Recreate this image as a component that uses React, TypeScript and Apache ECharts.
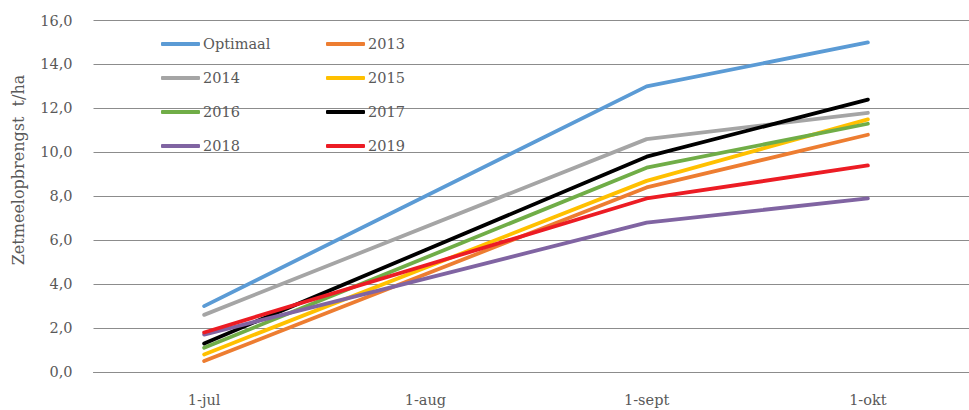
import React, { useEffect, useRef } from "react";
import * as echarts from "echarts";

const categories = ["1-jul", "1-aug", "1-sept", "1-okt"];
const seriesNames = ["Optimaal", "2013", "2014", "2015", "2016", "2017", "2018", "2019"];
const optimaal = [3.0, null, 13.0, 15.0];
const y2013 = [0.5, null, 8.4, 10.8];
const y2014 = [2.6, null, 10.6, 11.8];
const y2015 = [0.8, null, 8.7, 11.5];
const y2016 = [1.1, null, 9.3, 11.3];
const y2017 = [1.3, null, 9.8, 12.4];
const y2018 = [1.7, null, 6.8, 7.9];
const y2019 = [1.8, null, 7.9, 9.4];
const seriesData = [optimaal, y2013, y2014, y2015, y2016, y2017, y2018, y2019];
const colors = ["#5B9BD5", "#ED7D31", "#A5A5A5", "#FFC000", "#70AD47", "#000000", "#8064A2", "#EC1C24"];
const yMin = 0;
const yMax = 16;
const yStep = 2;

const FONT = "DejaVu Serif";
const TEXT = "#595959";

export default function App() {
  const ref = useRef<HTMLDivElement>(null);
  useEffect(() => {
    if (!ref.current) return;
    const chart = echarts.init(ref.current, null, { renderer: "svg" });
    const legendPos = [
      [161, 44], [326, 44],
      [161, 78], [326, 78],
      [161, 112], [326, 112],
      [161, 146], [326, 146],
    ];
    const legends = seriesNames.map((n, i) => ({
      show: true,
      data: [n],
      left: legendPos[i][0],
      top: legendPos[i][1] - 9,
      padding: 0,
      itemWidth: 39,
      itemHeight: 4,
      itemGap: 0,
      icon: "roundRect",
      textStyle: { fontFamily: FONT, fontSize: 14.5, color: TEXT, padding: [0, 0, 0, -2], lineHeight: 18 },
      selectedMode: false,
    }));
    chart.setOption({
      animation: false,
      color: colors,
      legend: legends,
      grid: { left: 93.5, top: 20.5, width: 885, height: 351.5, containLabel: false },
      xAxis: {
        type: "category",
        data: categories,
        boundaryGap: true,
        axisLine: { show: true, lineStyle: { color: "#8C8C8C", width: 1 } },
        axisTick: { show: false },
        axisLabel: { color: TEXT, fontFamily: FONT, fontSize: 14.5, margin: 20 },
      },
      yAxis: {
        type: "value",
        min: yMin,
        max: yMax,
        interval: yStep,
        axisLine: { show: false },
        axisTick: { show: false },
        axisLabel: {
          color: TEXT,
          fontFamily: FONT,
          fontSize: 14.5,
          margin: 21,
          formatter: (v: number) => v.toFixed(1).replace(".", ","),
        },
        splitLine: { lineStyle: { color: "#8C8C8C", width: 1 } },
      },
      graphic: [
        {
          type: "text",
          x: 18,
          y: 170,
          rotation: Math.PI / 2,
          style: {
            text: "Zetmeelopbrengst  t/ha",
            fill: TEXT,
            font: `16px "${FONT}"`,
            align: "center",
            verticalAlign: "middle",
          },
        },
      ],
      series: seriesNames.map((n, i) => ({
        name: n,
        type: "line",
        data: seriesData[i],
        connectNulls: true,
        showSymbol: false,
        symbol: "none",
        lineStyle: { width: 3.8, color: colors[i], cap: "round", join: "round" },
        itemStyle: { color: colors[i] },
      })),
    });
    return () => chart.dispose();
  }, []);
  return (
    <div style={{ position: "fixed", left: 0, top: 0, width: 969, height: 410, overflow: "hidden", background: "#fff" }}>
      <div ref={ref} style={{ width: 990, height: 410 }} />
    </div>
  );
}
